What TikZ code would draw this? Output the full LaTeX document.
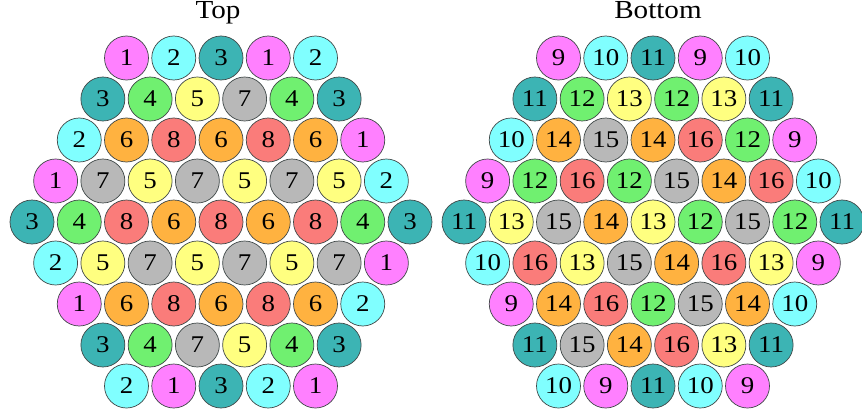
\documentclass[tikz,border=0pt]{standalone}
\usepackage{fontspec}
\setmainfont{Liberation Serif}[FakeStretch=1.12]
\definecolor{c1}{HTML}{FF80FF}
\definecolor{c2}{HTML}{80FFFF}
\definecolor{c3}{HTML}{3CB4B4}
\definecolor{c4}{HTML}{70F070}
\definecolor{c5}{HTML}{FFFF80}
\definecolor{c6}{HTML}{FFB240}
\definecolor{c7}{HTML}{B8B8B8}
\definecolor{c8}{HTML}{FA7C7A}
\definecolor{rim}{HTML}{404848}
\newcommand\drawhexgrid[3]{%
  \foreach \row [count=\r] in {#3} {%
    \pgfmathtruncatemacro{\n}{9-abs(\r-5)}%
    \foreach \v [count=\c] in \row {%
      \pgfmathtruncatemacro{\ci}{mod(\v-1,8)+1}%
      \pgfmathsetmacro{\xx}{#2+(\c-(\n+1)/2)*47.25}%
      \pgfmathsetmacro{\yy}{58+(\r-1)*41}%
      \node[ball, fill=c\ci] (#1-\r-\c) at (\xx,\yy) {\v};
    }%
  }%
}
\begin{document}
\begin{tikzpicture}[x=1pt,y=-1pt,
  ball/.style={circle, draw=rim, line width=0.7pt, minimum size=44pt, inner sep=0pt,
    font=\fontsize{24}{24}\selectfont},
  title/.style={font=\fontsize{26}{26}\selectfont, inner sep=0pt}]
\useasboundingbox (0,0) rectangle (862,412);
\node[title, anchor=base] (ttop) at (218,19) {Top};
\node[title, anchor=base] (tbottom) at (658,19) {Bottom};
\drawhexgrid{t}{221}{{1,2,3,1,2},{3,4,5,7,4,3},{2,6,8,6,8,6,1},{1,7,5,7,5,7,5,2},{3,4,8,6,8,6,8,4,3},{2,5,7,5,7,5,7,1},{1,6,8,6,8,6,2},{3,4,7,5,4,3},{2,1,3,2,1}}
\drawhexgrid{b}{653}{{9,10,11,9,10},{11,12,13,12,13,11},{10,14,15,14,16,12,9},{9,12,16,12,15,14,16,10},{11,13,15,14,13,12,15,12,11},{10,16,13,15,14,16,13,9},{9,14,16,12,15,14,10},{11,15,14,16,13,11},{10,9,11,10,9}}
\end{tikzpicture}
\end{document}
